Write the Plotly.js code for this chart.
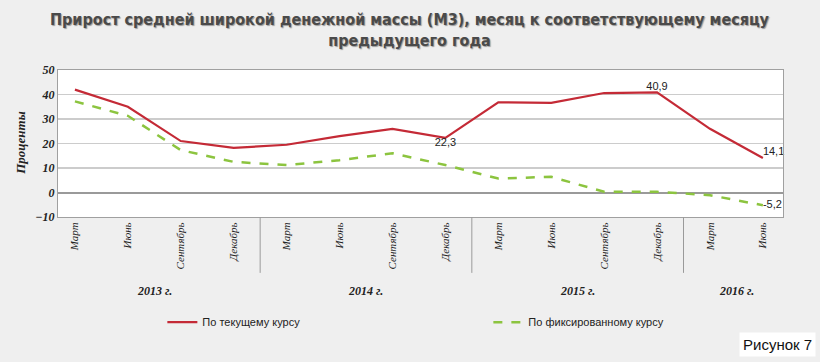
<!DOCTYPE html>
<html>
<head>
<meta charset="utf-8">
<script src="https://cdn.plot.ly/plotly-3.0.1.min.js"></script>
<style>
  html, body { margin: 0; padding: 0; background: #efefef; }
  #chart { width: 820px; height: 362px; }
</style>
</head>
<body>
<div id="chart"></div>
<script>
// ---- Data ----
const months = ["Март", "Июнь", "Сентябрь", "Декабрь",
                "Март", "Июнь", "Сентябрь", "Декабрь",
                "Март", "Июнь", "Сентябрь", "Декабрь",
                "Март", "Июнь"];
const years = ["2013", "2013", "2013", "2013",
               "2014", "2014", "2014", "2014",
               "2015", "2015", "2015", "2015",
               "2016", "2016"];
const yearLabels = ["2013 г.", "2014 г.", "2015 г.", "2016 г."];
const currentRate = [42.0, 35.0, 21.0, 18.2, 19.5, 23.0, 26.0, 22.3, 36.8, 36.6, 40.6, 40.9, 26.0, 14.1];
const fixedRate   = [37.2, 31.3, 17.3, 12.5, 11.2, 13.2, 16.0, 11.2, 5.7, 6.4, 0.3, 0.3, -1.1, -5.2];
const currentLabels = ["", "", "", "", "", "", "", "22,3", "", "", "", "40,9", "", "14,1"];
const fixedLabels   = ["", "", "", "", "", "", "", "", "", "", "", "", "", "-5,2"];
const currentPos = ["top center","top center","top center","top center","top center","top center","top center",
                    "bottom center","top center","top center","top center","top center","top center","top right"];
const fixedPos = ["middle right","middle right","middle right","middle right","middle right","middle right","middle right",
                  "middle right","middle right","middle right","middle right","middle right","middle right","middle right"];
const titleText = "Прирост средней широкой денежной массы (М3), месяц к соответствующему месяцу<br>предыдущего года";

// category keys (unique) built from data
const cats = months.map((m, i) => years[i] + " " + m);

// year group boundaries and centers
const yearGroups = [];
years.forEach((y, i) => {
  let g = yearGroups.find(o => o.year === y);
  if (!g) { g = {year: y, first: i, last: i}; yearGroups.push(g); }
  g.last = i;
});

const serif = "Liberation Serif, Times New Roman, serif";
const sans = "Liberation Sans, Arial, sans-serif";

const traces = [
  {
    x: cats, y: currentRate, type: "scatter", mode: "lines+text",
    name: "По текущему курсу",
    line: {color: "#c42a36", width: 2.2},
    text: currentLabels, textposition: currentPos,
    textfont: {family: sans, size: 11, color: "#222"},
    cliponaxis: false, hoverinfo: "skip"
  },
  {
    x: cats, y: fixedRate, type: "scatter", mode: "lines+text",
    name: "По фиксированному курсу",
    line: {color: "#8cc43f", width: 2.5, dash: "dash"},
    text: fixedLabels, textposition: fixedPos,
    textfont: {family: sans, size: 11, color: "#222"},
    cliponaxis: false, hoverinfo: "skip"
  }
];

const shapes = [];
for (let k = 0; k < yearGroups.length - 1; k++) {
  const xb = yearGroups[k].last + 0.5;
  shapes.push({type: "line", xref: "x", yref: "paper", x0: xb, x1: xb, y0: 0, y1: -0.38,
               line: {color: "#9a9a9a", width: 1}});
}

const annotations = yearGroups.map((g, k) => ({
  xref: "x", yref: "paper", x: (g.first + g.last) / 2, y: -0.505,
  text: yearLabels[k], showarrow: false, yanchor: "middle",
  font: {family: serif, size: 12, color: "#222", weight: "bold", style: "italic"}
}));
annotations.push({
  xref: "paper", yref: "paper", x: -0.052, y: 0.5, textangle: -90,
  text: "Проценты", showarrow: false, xanchor: "center", yanchor: "middle",
  font: {family: serif, size: 13, color: "#222", weight: "bold", style: "italic"}
});
annotations.push({
  xref: "paper", yref: "paper", x: 1.045, y: -0.87, xanchor: "right", yanchor: "middle",
  text: "Рисунок 7", showarrow: false, bgcolor: "#ffffff", borderpad: 3,
  font: {family: sans, size: 15, color: "#111"}
});
annotations.push({
  xref: "paper", yref: "paper", x: 0.486, y: 1.42, xanchor: "center", yanchor: "top",
  text: titleText, showarrow: false, align: "center",
  font: {family: "DejaVu Sans Condensed, DejaVu Sans, sans-serif", size: 16, color: "#4a4a4a", weight: "bold",
         shadow: "1px 1px 1px #9a9a9a"}
});

const layout = {
  width: 820, height: 362,
  paper_bgcolor: "#efefef", plot_bgcolor: "#ffffff",
  margin: {l: 58, r: 37, t: 70, b: 145},
  separators: ", ",
  showlegend: true,
  xaxis: {
    type: "category", tickvals: cats, ticktext: months, tickangle: -90,
    range: [-0.32, 13.38], showgrid: false, zeroline: false,
    showline: true, linecolor: "#a0a0a0", linewidth: 1, mirror: true, ticks: "",
    tickfont: {family: serif, size: 11, color: "#222", style: "italic"}
  },
  yaxis: {
    range: [-10, 50], tickvals: [-10, 0, 10, 20, 30, 40, 50],
    showgrid: true, gridcolor: "#cccccc", gridwidth: 1.5,
    zeroline: true, zerolinecolor: "#9a9a9a", zerolinewidth: 2,
    showline: true, linecolor: "#a0a0a0", linewidth: 1, mirror: true, ticks: "",
    tickfont: {family: serif, size: 12, color: "#222", weight: "bold", style: "italic"}
  },
  legend: {
    orientation: "h", xref: "container", yref: "container",
    x: 0.198, y: 0.11, xanchor: "left", yanchor: "middle",
    bgcolor: "rgba(0,0,0,0)", entrywidth: 281,
    font: {family: sans, size: 11, color: "#222"}
  },
  shapes: shapes,
  annotations: annotations
};

Plotly.newPlot("chart", traces, layout, {displayModeBar: false, staticPlot: true});
</script>
</body>
</html>
